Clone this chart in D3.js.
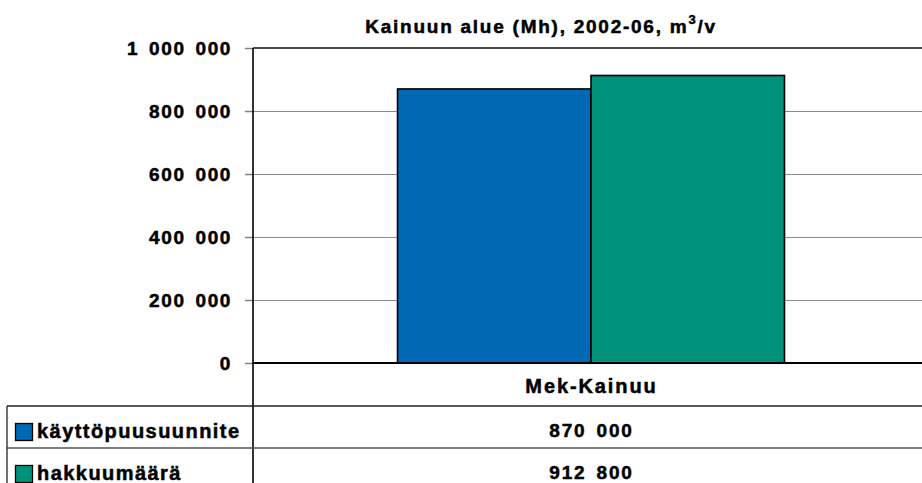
<!DOCTYPE html>
<html><head><meta charset="utf-8">
<script src="https://cdn.jsdelivr.net/npm/d3@7"></script>
<style>
body{margin:0;background:#fff;}
svg{display:block;font-family:"Liberation Sans",Arial,sans-serif;font-weight:bold;}
svg text{stroke:#000;stroke-width:0.5px;}
</style></head>
<body><svg id="c" width="922" height="483"></svg>
<script>
const title = "Kainuun alue (Mh), 2002-06, m";
const categories = ["Mek-Kainuu"];
const seriesNames = ["käyttöpuusuunnite", "hakkuumäärä"];
const seriesValues = [[870000], [912800]];
const valueLabels = [["870 000"], ["912 800"]];
const yTicks = [0, 200000, 400000, 600000, 800000, 1000000];
const colors = ["#0068B5", "#00917B"];

(function () {
const svg = d3.select("#c");
const pL = 253, pR = 929, pT = 48, pB = 363;
const y = d3.scaleLinear().domain([0, 1000000]).range([pB, pT]);
const x0 = d3.scaleBand().domain(categories).range([pL, pR]).padding(0);
const x1 = d3.scaleBand().domain(seriesNames).range([0, x0.bandwidth()]).paddingInner(0).paddingOuter(0.747);
const fmt = v => d3.format(",")(v).replace(/,/g, " ");

// title
const t = svg.append("text").attr("x", 541).attr("y", 33).attr("text-anchor", "middle")
  .style("font-size", "19px").style("letter-spacing", "1.75px");
t.append("tspan").text(title);
t.append("tspan").attr("dy", -9).style("font-size", "13px").text("3");
t.append("tspan").attr("dy", 9).text("/v");

// gridlines
svg.append("g").selectAll("line").data(yTicks.filter(d => d > 0 && d < 1000000)).join("line")
  .attr("x1", pL).attr("x2", 922).attr("y1", d => Math.round(y(d)) + 0.5).attr("y2", d => Math.round(y(d)) + 0.5)
  .attr("stroke", "#8a8a8a").attr("stroke-width", 1.2);
svg.append("line").attr("x1", pL).attr("x2", 922).attr("y1", y(1000000)).attr("y2", y(1000000))
  .attr("stroke", "#111").attr("stroke-width", 1.6);

// y axis
const yAxis = d3.axisLeft(y).tickValues(yTicks).tickSize(8).tickPadding(21).tickFormat(fmt);
const ga = svg.append("g").attr("transform", `translate(${pL},0)`).call(yAxis);
ga.select(".domain").remove();
ga.selectAll(".tick line").attr("stroke", "#808080").attr("stroke-width", 1.5);
ga.selectAll(".tick text").attr("fill", "#000").style("font-size", "19px").style("letter-spacing", "1.6px")
  .style("word-spacing", "3px")
  .style("font-family", "'Liberation Sans',Arial,sans-serif").style("font-weight", "bold").attr("dy", "0.36em")
  .attr("x", -21);

// bars
const g = svg.append("g");
seriesNames.forEach((s, i) => {
  g.selectAll(null).data(categories).join("rect")
    .attr("x", c => x0(c) + x1(s)).attr("width", x1.bandwidth())
    .attr("y", (c, j) => y(seriesValues[i][j])).attr("height", (c, j) => pB - y(seriesValues[i][j]))
    .attr("fill", colors[i]).attr("stroke", "#000").attr("stroke-width", 1.6);
});

// zero line & y axis line
svg.append("line").attr("x1", pL).attr("x2", 922).attr("y1", pB).attr("y2", pB).attr("stroke", "#000").attr("stroke-width", 2);
svg.append("line").attr("x1", pL).attr("x2", pL).attr("y1", pT).attr("y2", 483).attr("stroke", "#000").attr("stroke-width", 1.6);

// data table
const rowTop = 406, rowH = 42;
svg.append("line").attr("x1", 7).attr("x2", 922).attr("y1", rowTop).attr("y2", rowTop).attr("stroke", "#222").attr("stroke-width", 1.3);
svg.append("line").attr("x1", 7).attr("x2", 922).attr("y1", rowTop + rowH).attr("y2", rowTop + rowH).attr("stroke", "#555").attr("stroke-width", 1.3);
svg.append("line").attr("x1", 7).attr("x2", 7).attr("y1", rowTop).attr("y2", 483).attr("stroke", "#222").attr("stroke-width", 1.3);

const cx = c => x0(c) + x0.bandwidth() / 2 + 0.5;
categories.forEach(c => {
  svg.append("text").attr("x", cx(c)).attr("y", 393).attr("text-anchor", "middle")
    .style("font-size", "20px").style("letter-spacing", "1.9px").text(c);
});
seriesNames.forEach((s, i) => {
  const yy = rowTop + rowH * i;
  svg.append("rect").attr("x", 15.5).attr("y", yy + 17.5).attr("width", 17).attr("height", 17)
    .attr("fill", colors[i]).attr("stroke", "#000").attr("stroke-width", 1.3);
  svg.append("text").attr("x", 37).attr("y", yy + 32).style("font-size", "20px").style("letter-spacing", "1.45px").text(s);
  categories.forEach((c, j) => {
    svg.append("text").attr("x", cx(c)).attr("y", yy + 31).attr("text-anchor", "middle")
      .style("font-size", "19px").style("letter-spacing", "1.8px").style("word-spacing", "3px").text(valueLabels[i][j]);
  });
});
})();
</script></body></html>
